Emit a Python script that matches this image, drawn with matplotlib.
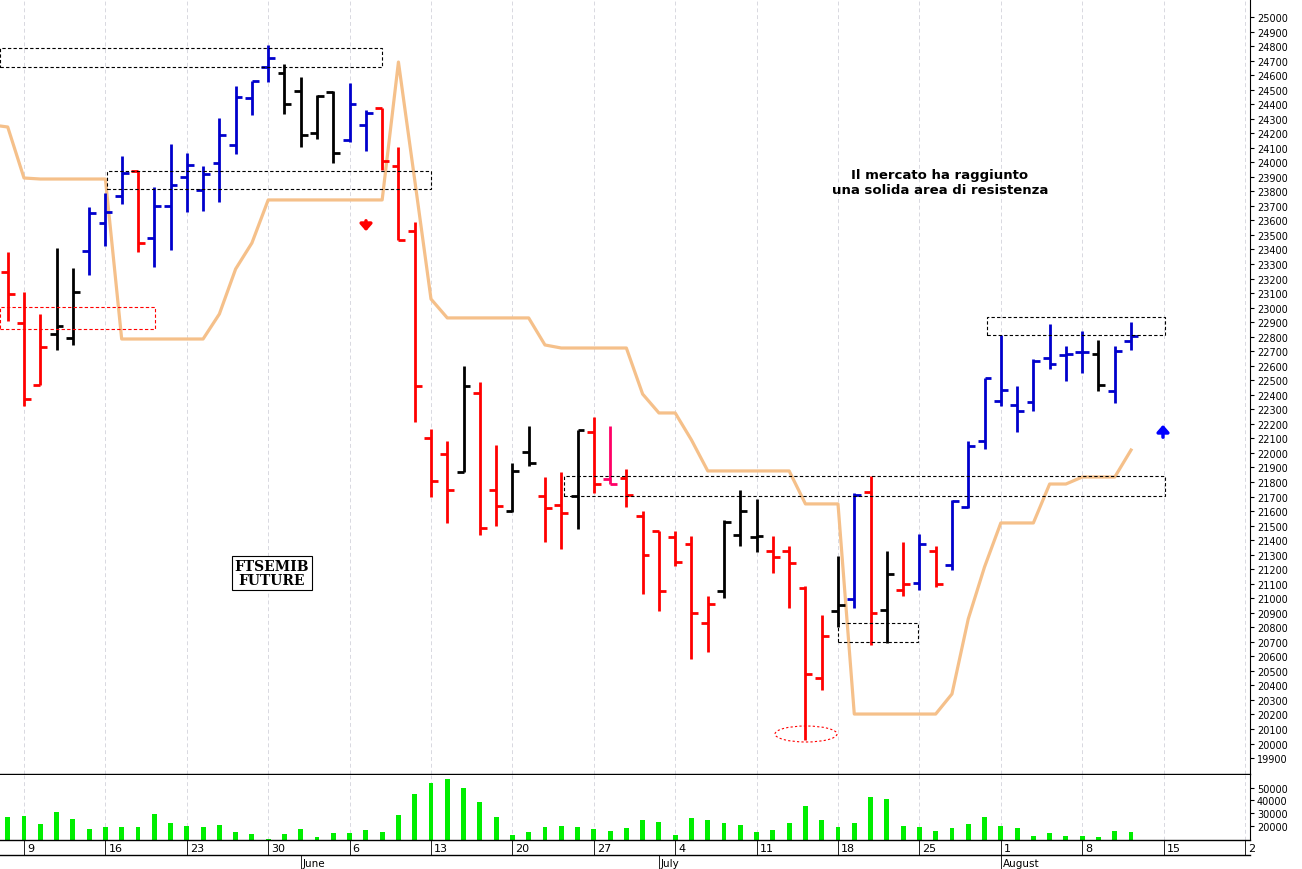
import matplotlib
matplotlib.use('Agg')
import matplotlib.pyplot as plt
from matplotlib.patches import Rectangle, Ellipse
from matplotlib.lines import Line2D
import numpy as np

# trading-day index: 0 = Monday 9 May, -1 = Friday 6 May
opens = [23245, 22894, 22467, 22818, 22791, 23390, 23582, 23768, 23940, 23479,
         23699, 23899, 23809, 23995, 24119, 24443, 24656, 24615, 24491, 24202,
         24484, 24154, 24257, 24374, 23975, 23527, 22103, 21993, 21869, 22412,
         21745, 21600, 22006, 21703, 21642, 21703, 22144, 21820, 21827, 21566,
         21463, 21421, 21373, 20829, 21050, 21435, 21421, 21325, 21325, 21070,
         20451, 20912, 20995, 21731, 20919, 21057, 21105, 21325, 21229, 21628,
         22082, 22357, 22330, 22350, 22653, 22674, 22695, 22681, 22426, 22770]
highs = [23383, 23108, 22956, 23410, 23273, 23692, 23789, 24043, 23940, 23830,
         24126, 24064, 23975, 24305, 24525, 24560, 24807, 24677, 24587, 24463,
         24491, 24546, 24360, 24374, 24105, 23589, 22165, 22082, 22598, 22488,
         22055, 21931, 22185, 21834, 21869, 22158, 22247, 22185, 21889, 21600,
         21463, 21463, 21428, 21015, 21538, 21745, 21683, 21428, 21359, 21084,
         20885, 21291, 21724, 21841, 21325, 21387, 21442, 21359, 21676, 22082,
         22516, 22812, 22460, 22646, 22887, 22736, 22839, 22777, 22736, 22901]
lows = [22908, 22323, 22467, 22708, 22743, 23224, 23424, 23713, 23383, 23280,
        23397, 23658, 23665, 23727, 24057, 24326, 24553, 24332, 24105, 24160,
        23995, 24140, 24078, 23947, 23465, 22213, 21697, 21518, 21869, 21435,
        21497, 21593, 21910, 21387, 21339, 21476, 21724, 21786, 21628, 21029,
        20912, 21222, 20582, 20630, 21001, 21359, 21318, 21174, 20933, 20024,
        20368, 20802, 20933, 20678, 20692, 21015, 21057, 21077, 21194, 21621,
        22027, 22323, 22144, 22288, 22578, 22495, 22550, 22426, 22343, 22708]
closes = [23094, 22371, 22729, 22873, 23108, 23651, 23658, 23926, 23445, 23699,
          23844, 23981, 23920, 24188, 24449, 24560, 24718, 24401, 24188, 24456,
          24064, 24401, 24339, 24009, 23465, 22460, 21807, 21745, 22460, 21483,
          21635, 21876, 21931, 21621, 21587, 22158, 21786, 21786, 21710, 21298,
          21050, 21250, 20898, 20960, 21525, 21600, 21428, 21284, 21243, 20479,
          20740, 20953, 21710, 20898, 21167, 21098, 21373, 21098, 21669, 22048,
          22516, 22433, 22288, 22633, 22612, 22681, 22695, 22467, 22701, 22805]
bar_kind = list('rrrkkbbbrbbbbbbbbkkkkbbrrrrrkrrkkrrkrprrrrrrkkkrrrrkbrkrbrbbbbbbbbbkbb')
stop_line = [24243, 23892, 23885, 23885, 23885, 23885, 23885, 22784, 22784, 22784,
             22784, 22784, 22784, 22956, 23266, 23445, 23741, 23741, 23741, 23741,
             23741, 23741, 23741, 23741, 24690, 23878, 23059, 22929, 22929, 22929,
             22929, 22929, 22929, 22743, 22722, 22722, 22722, 22722, 22722, 22405,
             22275, 22275, 22089, 21876, 21876, 21876, 21876, 21876, 21876, 21649,
             21649, 21649, 20203, 20203, 20203, 20203, 20203, 20203, 20341, 20857,
             21215, 21518, 21518, 21518, 21786, 21786, 21834, 21834, 21834, 22020]
volume = [27200, 27500, 21600, 31200, 25600, 17600, 18700, 19200, 18900, 29600,
          22100, 20000, 19200, 20800, 14900, 13600, 9600, 13300, 17300, 10900,
          14100, 14400, 16500, 14900, 28800, 44800, 53600, 56800, 49600, 38400,
          27200, 12500, 14900, 19200, 20000, 19200, 17300, 16000, 17900, 24800,
          22900, 12500, 26100, 24300, 22400, 20800, 14900, 16800, 22400, 35500,
          24800, 19200, 22400, 42400, 40800, 20000, 19200, 15500, 17900, 21100,
          27200, 20000, 17900, 11700, 14100, 12300, 12300, 11200, 15500, 15200]
day_labels = ['9', '16', '23', '30', '6', '13', '20', '27', '4', '11', '18', '25', '1', '8', '15', '2']
month_labels = [('June', 17), ('July', 39), ('August', 60)]

colors = {'r': '#ff0000', 'b': '#0000cc', 'k': '#000000', 'p': '#ff0066'}
idx = np.arange(-1, len(opens) - 1)

W, H = 1302, 870
fig = plt.figure(figsize=(W / 100, H / 100), dpi=100)
ax = fig.add_axes([0, 1 - 775 / H, 1250 / W, 775 / H])
axv = fig.add_axes([0, 1 - 841 / H, 1250 / W, 65 / H])

def px(x):
    return (x - 24) / 16.28

def py(y):
    return 25000 - (y - 18) * 6.882

xlim = (px(0), px(1250))
for a in (ax, axv):
    a.set_xlim(*xlim)
    a.set_facecolor('white')
    for g in range(0, 80, 5):
        a.axvline(g, color='#d8d8e0', lw=0.7, ls=(0, (4, 3)), zorder=0)
ax.set_ylim(py(775), py(0))
axv.set_ylim(8800, 60000)

# OHLC bars
for i, o, h, l, c, k in zip(idx, opens, highs, lows, closes, bar_kind):
    col = colors[k]
    ax.plot([i, i], [l, h], color=col, lw=2.0, solid_capstyle='butt', zorder=3)
    ax.plot([i - 0.42, i], [o, o], color=col, lw=2.0, solid_capstyle='butt', zorder=3)
    ax.plot([i, i + 0.42], [c, c], color=col, lw=2.0, solid_capstyle='butt', zorder=3)

ax.plot(np.r_[px(0), idx], [24250] + stop_line, color='#f5c08a', lw=2.3, zorder=2)

# dashed boxes
def box(x0, x1, y0, y1, col='black'):
    ax.add_patch(Rectangle((px(x0), py(y1)), px(x1) - px(x0), py(y0) - py(y1),
                           fill=False, ec=col, lw=0.8, ls=(0, (3, 2)), zorder=4))

box(0, 382, 49, 68)
box(107, 431, 172, 190)
box(564, 1165, 477, 497)
box(838, 918, 624, 643)
box(987, 1165, 318, 336)
box(0, 155, 308, 330, col='#ff0000')
ax.add_patch(Ellipse((px(806), py(735)), 62 / 16.28, 16 * 6.882, fill=False,
                     ec='#ff0000', lw=0.8, ls=(0, (2, 2)), zorder=4))

ax.annotate('', xy=(px(366), py(235)), xytext=(px(366), py(219)),
            arrowprops=dict(arrowstyle='-|>,head_width=0.35,head_length=0.4', color='#ff0000', lw=2.5))
ax.annotate('', xy=(px(1163), py(423)), xytext=(px(1163), py(441)),
            arrowprops=dict(arrowstyle='-|>,head_width=0.35,head_length=0.4', color='#0000ff', lw=2.5))

ax.text(px(940), py(183), 'Il mercato ha raggiunto\nuna solida area di resistenza',
        ha='center', va='center', fontsize=9.5, fontweight='bold', linespacing=1.2)
ax.text(px(272), py(574), 'FTSEMIB\nFUTURE', ha='center', va='center', fontsize=10,
        fontweight='bold', family='DejaVu Serif', linespacing=1.0,
        bbox=dict(boxstyle='square,pad=0.2', fc='white', ec='black', lw=0.8))

# right price axis
ax.yaxis.tick_right()
ax.set_yticks(range(19900, 25001, 100))
ax.tick_params(axis='y', labelsize=7, length=3, pad=2)
ax.set_xticks([])
axv.bar(idx, volume, width=0.3, color='#00ee00', bottom=0)
axv.yaxis.tick_right()
axv.set_yticks([20000, 30000, 40000, 50000])
axv.tick_params(axis='y', labelsize=7, length=3, pad=2)
axv.set_xticks([])
for a in (ax, axv):
    for s in ('left', 'top'):
        a.spines[s].set_visible(False)
    a.spines['bottom'].set_linewidth(1.0)
    a.spines['right'].set_linewidth(0.8)

# date labels
for n, lab in enumerate(day_labels):
    x = 24 + 81.4 * n
    fig.add_artist(Line2D([x / W, x / W], [1 - 841 / H, 1 - 856 / H], color='black', lw=0.6))
    fig.text((x + 3) / W, 1 - 849 / H, lab, fontsize=8, va='center', ha='left')
fig.add_artist(Line2D([0, 1250 / W], [1 - 856 / H, 1 - 856 / H], color='black', lw=1.0))
for lab, i in month_labels:
    x = 24 + 16.28 * i
    fig.add_artist(Line2D([x / W, x / W], [1 - 856 / H, 0], color='black', lw=0.6))
    fig.text((x + 2) / W, 1 - 864 / H, lab, fontsize=7.5, va='center', ha='left')

fig.savefig('out.png', dpi=100)
